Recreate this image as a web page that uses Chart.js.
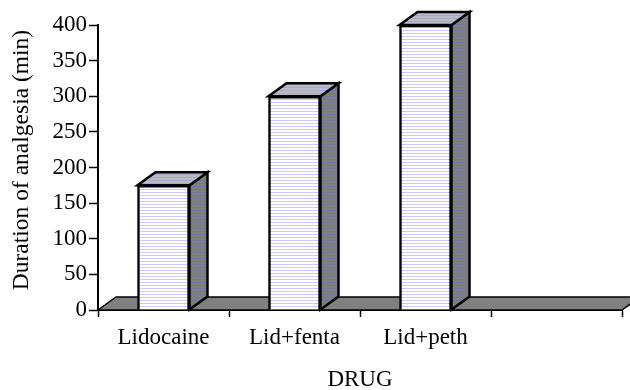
<!DOCTYPE html>
<html lang="en">
<head>
<meta charset="UTF-8">
<title>Duration of analgesia</title>
<script src="https://cdn.jsdelivr.net/npm/chart.js"></script>
<style>
    html, body { margin: 0; padding: 0; background: #fff; }
    canvas { display: block; }
</style>
</head>
<body>
<canvas id="drugChart" width="630" height="390"></canvas>
<script>
// Last category is left empty on purpose
var categories = ['Lidocaine', 'Lid+fenta', 'Lid+peth', ''];
var durations = [175, 300, 400, null];
var yTicks = [0, 50, 100, 150, 200, 250, 300, 350, 400];

var DEPTH_X = 18, DEPTH_Y = 13;
var FONT = '"Liberation Serif", serif';

// horizontal hatch used on every face of the boxes
function stripes(base, line) {
    var c = document.createElement('canvas');
    c.width = 4; c.height = 3;
    var g = c.getContext('2d');
    g.fillStyle = base;
    g.fillRect(0, 0, 4, 3);
    g.fillStyle = line;
    g.fillRect(0, 0, 4, 1);
    return g.createPattern(c, 'repeat');
}

var ctx = document.getElementById('drugChart').getContext('2d');
var frontFill = stripes('#ffffff', '#c9c9fb');
var topFill = stripes('#bcbcc8', '#a8a8c4');
var sideFill = stripes('#808080', '#76769a');

function poly(g, pts, fill, lineWidth) {
    g.beginPath();
    g.moveTo(pts[0][0], pts[0][1]);
    for (var i = 1; i < pts.length; i++) g.lineTo(pts[i][0], pts[i][1]);
    g.closePath();
    g.fillStyle = fill;
    g.fill();
    g.lineWidth = lineWidth;
    g.lineJoin = 'miter';
    g.strokeStyle = '#000';
    g.stroke();
}

var box3d = {
    id: 'box3d',
    // grey floor sits behind the bars
    beforeDatasetsDraw: function (chart) {
        var g = chart.ctx, a = chart.chartArea;
        g.save();
        poly(g, [[a.left, a.bottom], [a.left + DEPTH_X, a.bottom - DEPTH_Y],
                 [a.right + DEPTH_X, a.bottom - DEPTH_Y], [a.right, a.bottom]], '#808080', 1.5);
        g.restore();
    },
    // side and top faces follow each bar element
    afterDatasetsDraw: function (chart) {
        var g = chart.ctx;
        g.save();
        chart.getDatasetMeta(0).data.forEach(function (bar, i) {
            if (durations[i] === null) return;
            var half = bar.width / 2;
            var l = bar.x - half, r = bar.x + half, t = bar.y, b = bar.base;
            poly(g, [[r, t], [r + DEPTH_X, t - DEPTH_Y], [r + DEPTH_X, b - DEPTH_Y], [r, b]], sideFill, 2.5);
            poly(g, [[l, t], [l + DEPTH_X, t - DEPTH_Y], [r + DEPTH_X, t - DEPTH_Y], [r, t]], topFill, 2.5);
        });
        // y title sits a little above the axis centre, so it is placed by hand
        g.translate(22, 160);
        g.rotate(-Math.PI / 2);
        g.font = '23.5px ' + FONT;
        g.fillStyle = '#000';
        g.textAlign = 'center';
        g.textBaseline = 'middle';
        g.fillText('Duration of analgesia (min)', 0, 0);
        g.restore();
    }
};

new Chart(ctx, {
    type: 'bar',
    plugins: [box3d],
    data: {
        labels: categories,
        datasets: [{
            data: durations,
            backgroundColor: frontFill,
            borderColor: '#000',
            borderWidth: 2.5,
            barThickness: 52
        }]
    },
    options: {
        responsive: false,
        animation: false,
        layout: { padding: { top: 25, right: 8 } },
        plugins: { legend: { display: false }, tooltip: { enabled: false } },
        scales: {
            x: {
                afterFit: function (s) { s.height = 80; },
                border: { color: '#000', width: 2 },
                grid: { drawOnChartArea: false, color: '#000', tickLength: 7, tickWidth: 1.5 },
                ticks: { color: '#000', maxRotation: 0, padding: 7, font: { family: FONT, size: 23 } },
                title: { display: true, text: 'DRUG', color: '#000', padding: { top: 0, bottom: -4 }, font: { family: FONT, size: 23 } }
            },
            y: {
                min: 0,
                max: 400,
                afterBuildTicks: function (s) { s.ticks = yTicks.map(function (v) { return { value: v }; }); },
                afterFit: function (s) { s.width = 98; },
                border: { color: '#000', width: 2 },
                grid: { drawOnChartArea: false, color: '#000', tickLength: 9, tickWidth: 1.5 },
                ticks: { color: '#000', padding: 2, font: { family: FONT, size: 23 } }
            }
        }
    }
});
</script>
</body>
</html>
